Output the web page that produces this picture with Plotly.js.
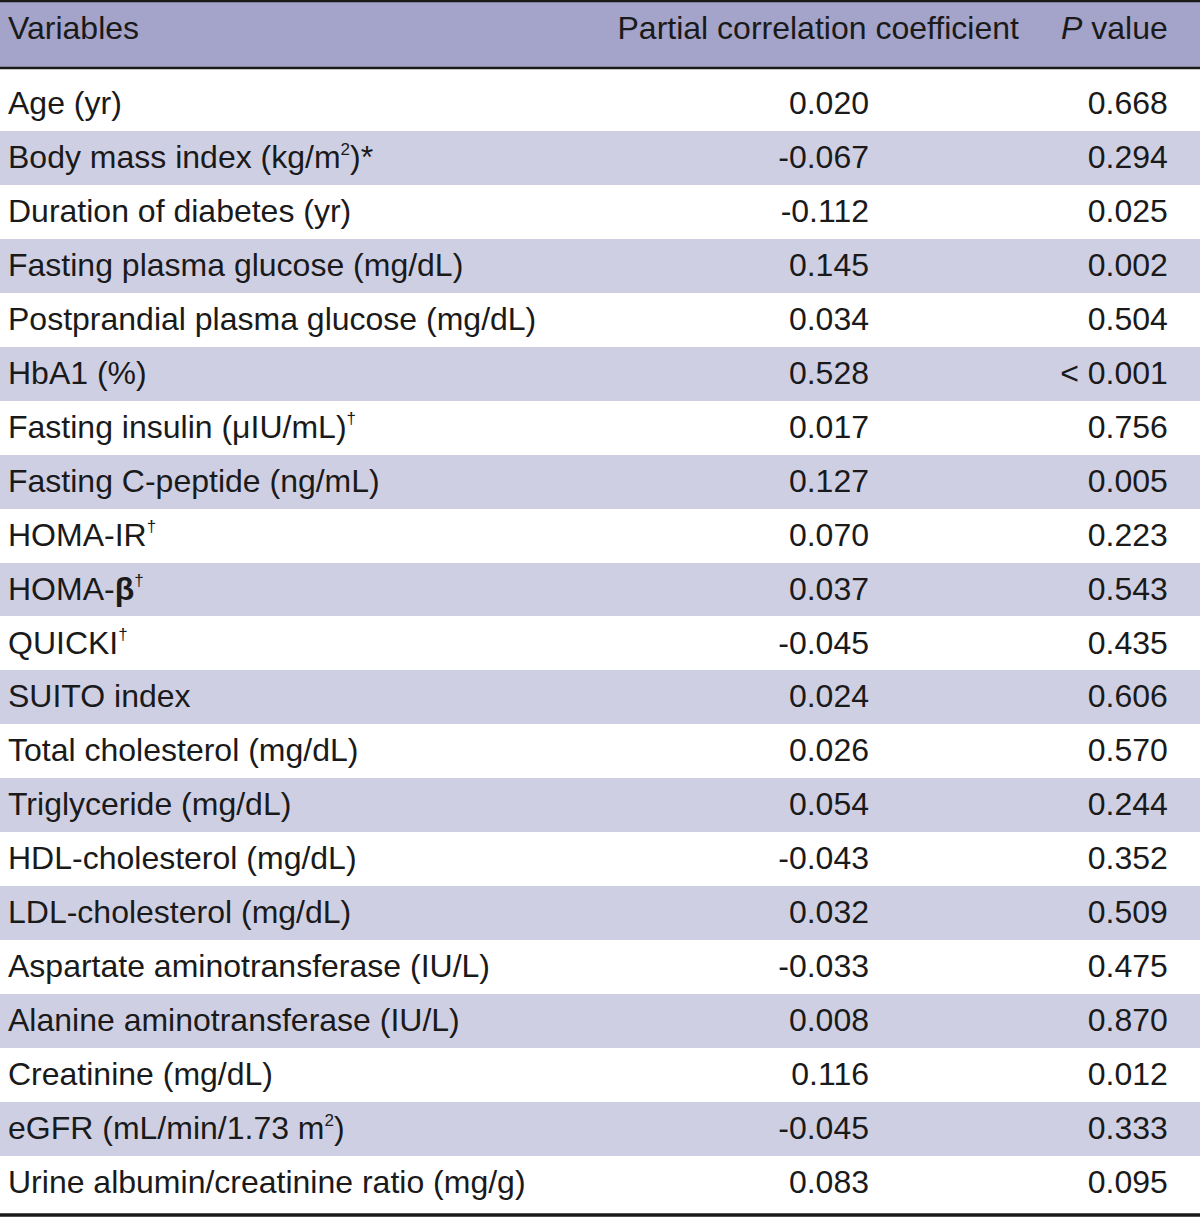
<!DOCTYPE html>
<html>
<head>
<meta charset="utf-8">
<script src="https://cdn.plot.ly/plotly-3.0.1.min.js"></script>
<style>html,body{margin:0;padding:0;background:#fff;}#chart{width:1200px;height:1218px;}</style>
</head>
<body>
<div id="chart"></div>
<script>
const headers = ["Variables", "Partial correlation coefficient", "<i>P</i> value"];
const variables = [
  "Age (yr)",
  "Body mass index (kg/m<sup>2</sup>)*",
  "Duration of diabetes (yr)",
  "Fasting plasma glucose (mg/dL)",
  "Postprandial plasma glucose (mg/dL)",
  "HbA1 (%)",
  "Fasting insulin (μIU/mL)<sup>†</sup>",
  "Fasting C-peptide (ng/mL)",
  "HOMA-IR<sup>†</sup>",
  "HOMA-<b>β</b><sup>†</sup>",
  "QUICKI<sup>†</sup>",
  "SUITO index",
  "Total cholesterol (mg/dL)",
  "Triglyceride (mg/dL)",
  "HDL-cholesterol (mg/dL)",
  "LDL-cholesterol (mg/dL)",
  "Aspartate aminotransferase (IU/L)",
  "Alanine aminotransferase (IU/L)",
  "Creatinine (mg/dL)",
  "eGFR (mL/min/1.73 m<sup>2</sup>)",
  "Urine albumin/creatinine ratio (mg/g)"
];
const coefficients = [0.020, -0.067, -0.112, 0.145, 0.034, 0.528, 0.017, 0.127, 0.070, 0.037, -0.045, 0.024, 0.026, 0.054, -0.043, 0.032, -0.033, 0.008, 0.116, -0.045, 0.083];
const pValues = ["0.668", "0.294", "0.025", "0.002", "0.504", "&lt; 0.001", "0.756", "0.005", "0.223", "0.543", "0.435", "0.606", "0.570", "0.244", "0.352", "0.509", "0.475", "0.870", "0.012", "0.333", "0.095"];

const W = 1200, H = 1218;
const FONT = "Liberation Sans, Arial, sans-serif";
const FS = 32;
const SUP_FS = 17;
const TXT = "#1a1a1a";
const headerFill = "#a4a3c9";
const shadeFill = "#cfcfe4";

// layout geometry (px)
const topY = 2, headRule = 68, bodyTop = 77, rowH = 53.95;
const bottomRule = 1215;

// small superscripts kept inside the normal line box; the styled tag is written
// without a plain space (the table word-wrapper protects '<a href=')
const smallSup = s => s.replace(/<sup>(.*?)<\/sup>/g,
  '<sup><a href=""style="font-size:' + SUP_FS + 'px;color:' + TXT + '">$1</a></sup>');
// every cell goes through the same rich-text path so all rows share one baseline
const rich = s => "<span>" + s + "</span>";
const RPAD = "\u2007\u2009";

const rowFills = variables.map((_, i) => i % 2 === 1 ? shadeFill : "#ffffff");
const labelText = variables.map(v => rich(smallSup(v)));
const coefText = coefficients.map(v => rich(v.toFixed(3)));
const pText = pValues.map(p => rich(p + RPAD));

const bodyTable = {
  type: "table",
  domain: {x: [0, 1], y: [1 - bottomRule / H, 1 - topY / H]},
  columnwidth: [600, 277, 323],
  header: {
    values: [rich(headers[0]), "", rich(headers[2] + RPAD)],
    align: ["left", "right", "right"],
    height: bodyTop - topY,
    fill: {color: headerFill},
    line: {width: 0, color: headerFill},
    font: {family: FONT, size: FS, color: TXT}
  },
  cells: {
    values: [labelText, coefText, pText],
    align: ["left", "right", "right"],
    height: rowH,
    fill: {color: [rowFills, rowFills, rowFills]},
    line: {width: 0, color: "#ffffff"},
    font: {family: FONT, size: FS, color: TXT}
  }
};

// header label that spans beyond the numeric column
const spanHeader = {
  type: "table",
  domain: {x: [0, 1027 / W], y: [1 - headRule / H, 1 - topY / H]},
  columnwidth: [1],
  header: {
    values: [rich(headers[1])],
    align: ["right"],
    height: headRule - topY,
    fill: {color: "rgba(0,0,0,0)"},
    line: {width: 0, color: "rgba(0,0,0,0)"},
    font: {family: FONT, size: FS, color: TXT}
  },
  cells: {values: [[]], line: {width: 0}}
};

const lineColor = "#1a1a1a";
const yp = px => 1 - px / H;
const layout = {
  width: W, height: H,
  margin: {l: 0, r: 0, t: 0, b: 0, pad: 0},
  paper_bgcolor: "#ffffff",
  showlegend: false,
  shapes: [
    {type: "rect", xref: "paper", yref: "paper", x0: 0, x1: 1, y0: yp(bodyTop), y1: yp(headRule), fillcolor: "#ffffff", line: {width: 0}},
    {type: "line", xref: "paper", yref: "paper", x0: 0, x1: 1, y0: yp(1), y1: yp(1), line: {color: lineColor, width: 2.5}},
    {type: "line", xref: "paper", yref: "paper", x0: 0, x1: 1, y0: yp(headRule), y1: yp(headRule), line: {color: lineColor, width: 2.5}},
    {type: "line", xref: "paper", yref: "paper", x0: 0, x1: 1, y0: yp(bottomRule), y1: yp(bottomRule), line: {color: lineColor, width: 3.5}}
  ]
};

Plotly.newPlot("chart", [bodyTable, spanHeader], layout, {displayModeBar: false, staticPlot: true});
</script>
</body>
</html>
